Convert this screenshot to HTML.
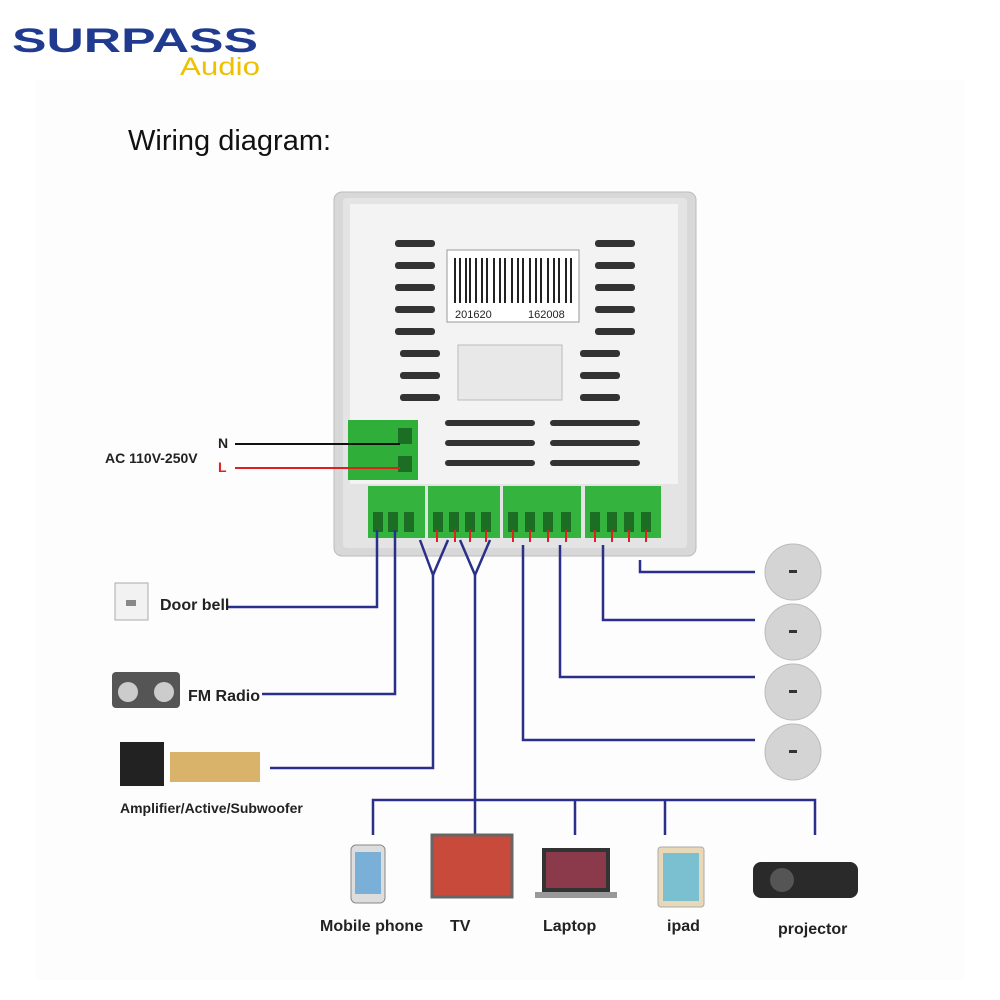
<!DOCTYPE html>
<html><head><meta charset="utf-8"><style>
html,body{margin:0;padding:0;background:#fff;width:1000px;height:1000px;overflow:hidden}
svg{display:block}
text{font-family:"Liberation Sans",sans-serif}
</style></head><body>
<svg width="1000" height="1000" viewBox="0 0 1000 1000" xmlns="http://www.w3.org/2000/svg">
<rect width="1000" height="1000" fill="#fff"/>
<rect x="35" y="80" width="930" height="900" fill="#fdfdfd"/>
<!-- logo -->
<text x="12" y="52" font-size="34" font-weight="bold" fill="#1f3a8f" textLength="246" lengthAdjust="spacingAndGlyphs">SURPASS</text>
<text x="180" y="75" font-size="25" fill="#f0c000" textLength="80" lengthAdjust="spacingAndGlyphs">Audio</text>
<text x="128" y="150" font-size="29" fill="#111">Wiring diagram:</text>
<!-- device -->
<rect x="334" y="192" width="362" height="364" rx="8" fill="#d8d8d8" stroke="#bbb"/>
<rect x="343" y="198" width="344" height="350" rx="4" fill="#e4e4e4"/>
<rect x="350" y="204" width="328" height="280" fill="#f3f3f3"/>
<g fill="#333">
<rect x="395" y="240" width="40" height="7" rx="3"/><rect x="395" y="262" width="40" height="7" rx="3"/><rect x="395" y="284" width="40" height="7" rx="3"/><rect x="395" y="306" width="40" height="7" rx="3"/><rect x="395" y="328" width="40" height="7" rx="3"/>
<rect x="595" y="240" width="40" height="7" rx="3"/><rect x="595" y="262" width="40" height="7" rx="3"/><rect x="595" y="284" width="40" height="7" rx="3"/><rect x="595" y="306" width="40" height="7" rx="3"/><rect x="595" y="328" width="40" height="7" rx="3"/>
<rect x="400" y="350" width="40" height="7" rx="3"/><rect x="400" y="372" width="40" height="7" rx="3"/><rect x="400" y="394" width="40" height="7" rx="3"/>
<rect x="580" y="350" width="40" height="7" rx="3"/><rect x="580" y="372" width="40" height="7" rx="3"/><rect x="580" y="394" width="40" height="7" rx="3"/>
<rect x="445" y="420" width="90" height="6" rx="3"/><rect x="445" y="440" width="90" height="6" rx="3"/><rect x="445" y="460" width="90" height="6" rx="3"/>
<rect x="550" y="420" width="90" height="6" rx="3"/><rect x="550" y="440" width="90" height="6" rx="3"/><rect x="550" y="460" width="90" height="6" rx="3"/>
</g>
<rect x="447" y="250" width="132" height="72" fill="#fff" stroke="#999"/>
<g stroke="#222" stroke-width="2">
<path d="M455 258v45M460 258v45M466 258v45M470 258v45M476 258v45M482 258v45M487 258v45M494 258v45M500 258v45M505 258v45M512 258v45M518 258v45M523 258v45M530 258v45M536 258v45M541 258v45M548 258v45M554 258v45M559 258v45M566 258v45M571 258v45"/>
</g>
<text x="455" y="318" font-size="11" fill="#222">201620</text><text x="528" y="318" font-size="11" fill="#222">162008</text>
<rect x="458" y="345" width="104" height="55" fill="#e8e8e8" stroke="#bbb"/>
<rect x="348" y="420" width="70" height="60" fill="#2fae3a"/>
<rect x="398" y="428" width="14" height="16" fill="#1b6e23"/><rect x="398" y="456" width="14" height="16" fill="#1b6e23"/>
<g fill="#34b33f">
<rect x="368" y="486" width="57" height="52"/><rect x="428" y="486" width="72" height="52"/><rect x="503" y="486" width="78" height="52"/><rect x="585" y="486" width="76" height="52"/>
</g>
<g fill="#1b6e23">
<rect x="373" y="512" width="10" height="20"/><rect x="388" y="512" width="10" height="20"/><rect x="404" y="512" width="10" height="20"/>
<rect x="433" y="512" width="10" height="20"/><rect x="449" y="512" width="10" height="20"/><rect x="465" y="512" width="10" height="20"/><rect x="481" y="512" width="10" height="20"/>
<rect x="508" y="512" width="10" height="20"/><rect x="525" y="512" width="10" height="20"/><rect x="543" y="512" width="10" height="20"/><rect x="561" y="512" width="10" height="20"/>
<rect x="590" y="512" width="10" height="20"/><rect x="607" y="512" width="10" height="20"/><rect x="624" y="512" width="10" height="20"/><rect x="641" y="512" width="10" height="20"/>
</g>
<text x="105" y="463" font-size="14" font-weight="bold" fill="#222">AC 110V-250V</text>
<text x="218" y="448" font-size="14" font-weight="bold" fill="#222">N</text>
<text x="218" y="472" font-size="14" font-weight="bold" fill="#e02020">L</text>
<line x1="235" y1="444" x2="400" y2="444" stroke="#111" stroke-width="2"/>
<line x1="235" y1="468" x2="400" y2="468" stroke="#e02020" stroke-width="2"/>
<g stroke="#2a2f8a" stroke-width="2.5" fill="none">
<path d="M377 530V607H228"/>
<path d="M395 530V694H262"/>
<path d="M433 575V768H270"/>
<path d="M475 575V800"/>
<path d="M373 835V800H815V835M575 800V835M665 800V835M475 800V835"/>
<path d="M640 560V572H755"/>
<path d="M603 545V620H755"/>
<path d="M560 545V677H755"/>
<path d="M523 545V740H755"/>
<path d="M433 575L420 540M433 575L448 540M475 575L460 540M475 575L490 540"/>
</g>
<g stroke="#e02020" stroke-width="2">
<path d="M437 530v12M455 530v12M470 530v12M486 530v12M513 530v12M530 530v12M548 530v12M566 530v12M595 530v12M612 530v12M629 530v12M646 530v12"/>
</g>
<g>
<circle cx="793" cy="572" r="28" fill="#d4d4d4" stroke="#bbb"/><circle cx="793" cy="632" r="28" fill="#d4d4d4" stroke="#bbb"/><circle cx="793" cy="692" r="28" fill="#d4d4d4" stroke="#bbb"/><circle cx="793" cy="752" r="28" fill="#d4d4d4" stroke="#bbb"/>
<g fill="#333"><rect x="789" y="570" width="8" height="3"/><rect x="789" y="630" width="8" height="3"/><rect x="789" y="690" width="8" height="3"/><rect x="789" y="750" width="8" height="3"/></g>
</g>
<rect x="115" y="583" width="33" height="37" fill="#f2f2f2" stroke="#aaa"/><rect x="126" y="600" width="10" height="6" fill="#888"/>
<text x="160" y="610" font-size="16" font-weight="bold" fill="#222">Door bell</text>
<rect x="112" y="672" width="68" height="36" rx="4" fill="#555"/><circle cx="128" cy="692" r="10" fill="#ccc"/><circle cx="164" cy="692" r="10" fill="#ccc"/>
<text x="188" y="701" font-size="16" font-weight="bold" fill="#222">FM Radio</text>
<rect x="120" y="742" width="44" height="44" fill="#222"/>
<rect x="170" y="752" width="90" height="30" fill="#d9b36a"/>
<text x="120" y="813" font-size="14" font-weight="bold" fill="#222">Amplifier/Active/Subwoofer</text>
<rect x="351" y="845" width="34" height="58" rx="5" fill="#ddd" stroke="#888"/><rect x="355" y="852" width="26" height="42" fill="#7ab0d8"/>
<rect x="432" y="835" width="80" height="62" fill="#c84a3a"/><rect x="432" y="835" width="80" height="62" fill="none" stroke="#666" stroke-width="3"/>
<rect x="542" y="848" width="68" height="44" fill="#333"/><rect x="546" y="852" width="60" height="36" fill="#8a3a4a"/><rect x="535" y="892" width="82" height="6" fill="#999"/>
<rect x="658" y="847" width="46" height="60" rx="3" fill="#e8d8b8" stroke="#aaa"/><rect x="663" y="853" width="36" height="48" fill="#7ac0d0"/>
<rect x="753" y="862" width="105" height="36" rx="8" fill="#2a2a2a"/><circle cx="782" cy="880" r="12" fill="#555"/>
<text x="320" y="931" font-size="16" font-weight="bold" fill="#222">Mobile phone</text>
<text x="450" y="931" font-size="16" font-weight="bold" fill="#222">TV</text>
<text x="543" y="931" font-size="16" font-weight="bold" fill="#222">Laptop</text>
<text x="667" y="931" font-size="16" font-weight="bold" fill="#222">ipad</text>
<text x="778" y="934" font-size="16" font-weight="bold" fill="#222">projector</text>
</svg>
</body></html>
